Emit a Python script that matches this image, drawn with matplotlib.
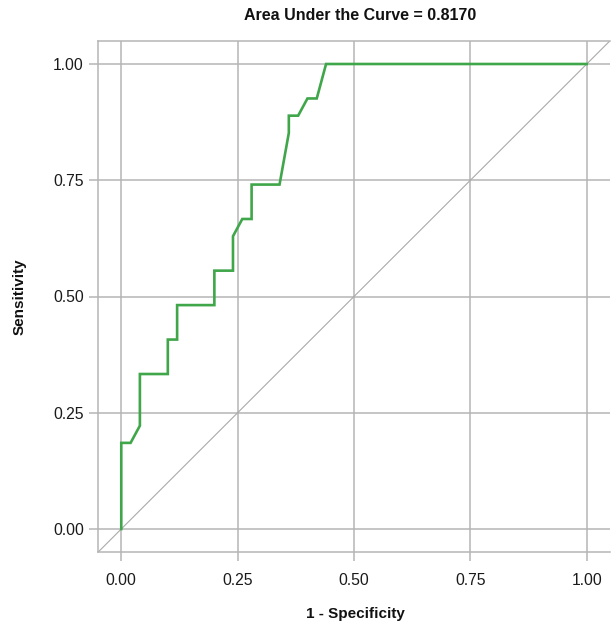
import matplotlib
matplotlib.use("Agg")
import matplotlib.pyplot as plt

plt.rcParams['font.family'] = ['Liberation Sans', 'DejaVu Sans']

# ROC curve points
fpr = [0.00, 0.00, 0.02, 0.04, 0.04, 0.10, 0.10, 0.12, 0.12, 0.20, 0.20, 0.24,
       0.24, 0.26, 0.28, 0.28, 0.34, 0.36, 0.36, 0.38, 0.40, 0.42, 0.44, 1.00]
tpr = [0.0000, 0.1852, 0.1852, 0.2222, 0.3333, 0.3333, 0.4074, 0.4074, 0.4815,
       0.4815, 0.5556, 0.5556, 0.6296, 0.6667, 0.6667, 0.7407, 0.7407, 0.8519,
       0.8889, 0.8889, 0.9259, 0.9259, 1.0000, 1.0000]
ticks = [0.00, 0.25, 0.50, 0.75, 1.00]
tick_labels = ["0.00", "0.25", "0.50", "0.75", "1.00"]
title = "Area Under the Curve = 0.8170"
xlabel = "1 - Specificity"
ylabel = "Sensitivity"

W, H = 611, 626
fig = plt.figure(figsize=(W / 100, H / 100), dpi=100)
left, right, top, bottom = 98, 610, 40.75, 552.25
ax = fig.add_axes([left / W, (H - bottom) / H, (right - left) / W, (bottom - top) / H])

grid_col = "#b5b5b5"
ax.set_xlim(-0.05, 1.05)
ax.set_ylim(-0.05, 1.05)
ax.set_facecolor("white")
for s in ax.spines.values():
    s.set_color(grid_col)
    s.set_linewidth(1.1)
ax.spines['right'].set_visible(False)

ax.set_xticks(ticks)
ax.set_xticklabels(tick_labels)
ax.set_yticks(ticks)
ax.set_yticklabels(tick_labels)
ax.tick_params(axis='both', colors=grid_col, length=6.5, width=1.1,
               labelsize=11.3, labelcolor="#1a1a1a")
ax.tick_params(axis='x', pad=8.5)
ax.tick_params(axis='y', pad=3.6)
ax.grid(True, color=grid_col, linewidth=1.1)
ax.set_axisbelow(True)

ax.axline((0, 0), slope=1, color="#aaaaaa", linewidth=0.8, zorder=2)
ax.plot(fpr, tpr, color="#40a64a", linewidth=1.9, zorder=3, solid_joinstyle='miter')

fig.text(360 / W, 1 - 16 / H, title, ha='center', va='center', fontsize=11.5,
         fontweight='bold', color="#111111")
fig.text(355 / W, 1 - 614 / H, xlabel, ha='center', va='center', fontsize=11,
         fontweight='bold', color="#111111")
fig.text(20 / W, 1 - 297 / H, ylabel, ha='center', va='center', fontsize=11,
         fontweight='bold', rotation=90, color="#111111")

fig.savefig("out.png", dpi=100, facecolor="white")
